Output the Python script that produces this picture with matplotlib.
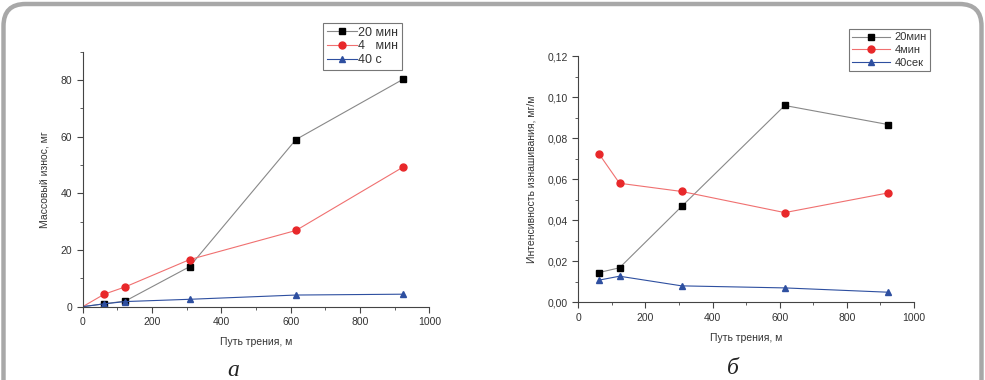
import matplotlib.pyplot as plt
from matplotlib.patches import FancyBboxPatch
from matplotlib.transforms import IdentityTransform
from matplotlib.ticker import MultipleLocator, FuncFormatter

plt.rcParams['font.family'] = ['Liberation Sans', 'DejaVu Sans']

# path of friction, m
x_a = [0, 62, 123, 308, 615, 923]
wear_20 = [0, 1.0, 2.0, 14.1, 59.0, 80.2]
wear_4 = [0, 4.4, 7.0, 16.6, 26.9, 49.2]
wear_40 = [0, 1.0, 1.8, 2.6, 4.1, 4.4]
labels_a = ['20 мин', '4   мин', '40 с']

x_b = [62, 123, 308, 615, 923]
rate_20 = [0.0146, 0.0169, 0.0468, 0.0960, 0.0867]
rate_4 = [0.0724, 0.0581, 0.0541, 0.0438, 0.0534]
rate_40 = [0.0109, 0.0128, 0.0081, 0.0071, 0.0050]
labels_b = ['20мин', '4мин', '40сек']

txt = '#333333'
fig = plt.figure(figsize=(9.85, 3.8), dpi=100)

# rounded frame around the figure (pixel coords)
frame = FancyBboxPatch((3.5, -60), 978, 380 - 4 + 60,
                       boxstyle='round,pad=0,rounding_size=22',
                       transform=IdentityTransform(), fill=False,
                       edgecolor='#a8a8a8', linewidth=3.2)
fig.patches.append(frame)


def style(ax):
    for s in ['top', 'right']:
        ax.spines[s].set_visible(False)
    for s in ['left', 'bottom']:
        ax.spines[s].set_color('#444444')
        ax.spines[s].set_linewidth(0.8)
    ax.tick_params(which='both', direction='out', colors='#444444', labelcolor=txt, labelsize=7.5)
    ax.tick_params(which='major', length=4)
    ax.tick_params(which='minor', length=2.5)
    ax.set_xlim(0, 1000)
    ax.xaxis.set_major_locator(MultipleLocator(200))
    ax.xaxis.set_minor_locator(MultipleLocator(100))
    ax.set_xlabel('Путь трения, м', fontsize=7.5, color=txt, labelpad=7)


series = [('#000000', '#888888', 's', 4), ('#e8282a', '#f07070', 'o', 5),
          ('#2e4fa0', '#2e4fa0', '^', 4.5)]

# --- a ---
ax1 = fig.add_axes([0.084, 0.193, 0.352, 0.671])
for y, (mc, lc, m, ms), lab in zip([wear_20, wear_4, wear_40], series, labels_a):
    ax1.plot(x_a, y, color=lc, lw=0.8, marker=m, ms=ms, mfc=mc, mec=mc, label=lab,
             markevery=list(range(1, len(x_a))))
style(ax1)
ax1.set_ylim(0, 90)
ax1.yaxis.set_major_locator(MultipleLocator(20))
ax1.yaxis.set_minor_locator(MultipleLocator(10))
ax1.set_ylabel('Массовый износ, мг', fontsize=7.5, color=txt, labelpad=8)
leg1 = ax1.legend(loc='upper left', bbox_to_anchor=(0.693, 1.113), fontsize=9, frameon=True,
                  fancybox=False, edgecolor='#555555', handlelength=2.4, handletextpad=0.1,
                  borderpad=0.3, labelspacing=0.15, borderaxespad=0)
leg1.get_frame().set_linewidth(0.8)
for t in leg1.get_texts():
    t.set_color(txt)
fig.text(233 / 985, 1 - 370 / 380, 'а', family='Liberation Serif', style='italic',
         fontsize=17, ha='center', va='center', color='#222222')

# --- б ---
ax2 = fig.add_axes([0.587, 0.204, 0.341, 0.648])
for y, (mc, lc, m, ms), lab in zip([rate_20, rate_4, rate_40], series, labels_b):
    ax2.plot(x_b, y, color=lc, lw=0.8, marker=m, ms=ms, mfc=mc, mec=mc, label=lab)
style(ax2)
ax2.set_ylim(0, 0.12)
ax2.yaxis.set_major_locator(MultipleLocator(0.02))
ax2.yaxis.set_minor_locator(MultipleLocator(0.01))
ax2.yaxis.set_major_formatter(FuncFormatter(lambda v, p: f'{v:.2f}'.replace('.', ',')))
ax2.set_ylabel('Интенсивность изнашивания, мг/м', fontsize=7.5, color=txt, labelpad=8)
leg2 = ax2.legend(loc='upper left', bbox_to_anchor=(0.806, 1.11), fontsize=8, frameon=True,
                  fancybox=False, edgecolor='#555555', handlelength=3.4, handletextpad=0.4,
                  borderpad=0.3, labelspacing=0.25, borderaxespad=0)
leg2.get_frame().set_linewidth(0.8)
for t in leg2.get_texts():
    t.set_color(txt)
fig.text(733 / 985, 1 - 368 / 380, 'б', family='Liberation Serif', style='italic',
         fontsize=17, ha='center', va='center', color='#222222')

fig.savefig('out.png', dpi=100)
